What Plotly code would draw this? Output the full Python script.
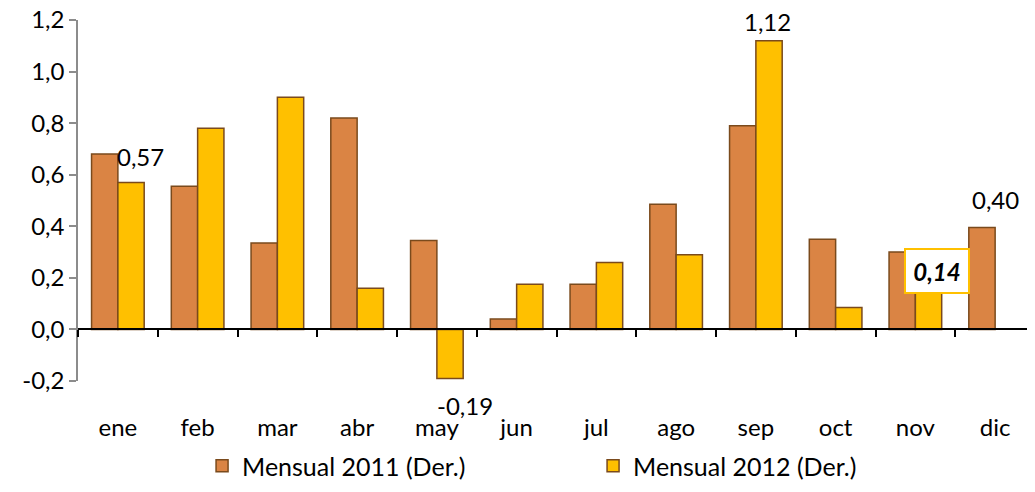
import plotly.graph_objects as go

months = ["ene", "feb", "mar", "abr", "may", "jun", "jul", "ago", "sep", "oct", "nov", "dic"]
m2011 = [0.68, 0.555, 0.335, 0.82, 0.345, 0.04, 0.175, 0.485, 0.79, 0.35, 0.30, 0.395]
m2012 = [0.57, 0.78, 0.90, 0.16, -0.19, 0.175, 0.26, 0.29, 1.12, 0.085, 0.14, None]
yticks = [-0.2, 0.0, 0.2, 0.4, 0.6, 0.8, 1.0, 1.2]
ytick_text = ["-0,2", "0,0", "0,2", "0,4", "0,6", "0,8", "1,0", "1,2"]

FONT = "Lato"
FS = 24
edge = "#7A4A1C"

fig = go.Figure()
fig.add_trace(go.Bar(x=months, y=m2011, name="Mensual 2011 (Der.)",
                     marker=dict(color="#DA8444", line=dict(color=edge, width=1.5))))
fig.add_trace(go.Bar(x=months, y=m2012, name="Mensual 2012 (Der.)",
                     marker=dict(color="#FFC000", line=dict(color=edge, width=1.5))))

def lab(i, series, text, xs, ys, **kw):
    fig.add_annotation(x=months[i], y=series[i], text=text, showarrow=False,
                       xshift=xs, yshift=ys,
                       font=dict(family=FONT, size=FS, color="black"), **kw)

lab(0, m2012, "0,57", 23, 26)
lab(8, m2012, "1,12", 12, 19)
lab(11, m2011, "0,40", 0, 28, bgcolor="white")
lab(4, m2012, "-0,19", 28, -27)
fig.add_annotation(x=months[10], y=m2012[10], text="<b><i>0,14</i></b>", showarrow=False,
                   xshift=22, yshift=22, bgcolor="white", bordercolor="#FFC000",
                   borderwidth=2, width=60, height=40,
                   font=dict(family=FONT, size=FS, color="black"))

fig.update_layout(
    width=1035, height=492,
    margin=dict(l=70, r=8, t=12, b=119, autoexpand=False),
    plot_bgcolor="white", paper_bgcolor="white",
    barmode="group", bargap=0.34, bargroupgap=0,
    font=dict(family=FONT, size=FS, color="black"),
    showlegend=True,
    legend=dict(orientation="h", xref="container", yref="container",
                x=0.1875, y=0.069, xanchor="left", yanchor="middle",
                entrywidth=346, entrywidthmode="pixels",
                font=dict(family=FONT, size=25, color="black")),
    xaxis=dict(type="category", anchor="free", position=1/7, automargin=False,
               showline=True, linecolor="black", linewidth=1.5,
               ticks="outside", tickson="boundaries", ticklen=7, tickcolor="black",
               tickwidth=1.5, showgrid=False, ticklabelstandoff=77,
               tickfont=dict(family=FONT, size=FS)),
    yaxis=dict(range=[-0.2, 1.2], tickvals=yticks, ticktext=ytick_text, automargin=False,
               ticklabeloverflow="allow",
               showline=True, linecolor="#8C8C8C", linewidth=1.5,
               ticks="outside", ticklen=7, tickcolor="#8C8C8C", tickwidth=1.5,
               showgrid=False, zeroline=False,
               tickfont=dict(family=FONT, size=FS)),
)

fig.write_html("out.html")
